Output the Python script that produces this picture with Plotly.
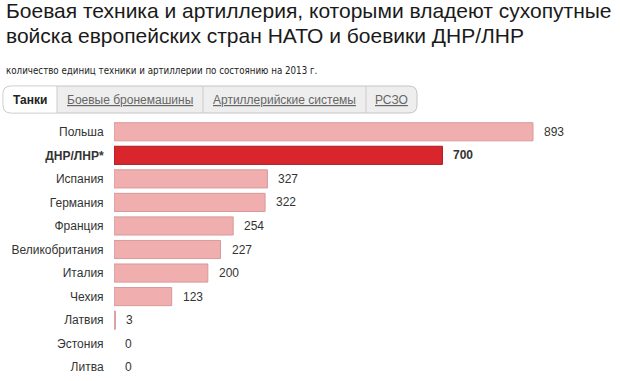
import plotly.graph_objects as go

countries = ["Польша", "ДНР/ЛНР*", "Испания", "Германия", "Франция", "Великобритания",
             "Италия", "Чехия", "Латвия", "Эстония", "Литва"]
tanks = [893, 700, 327, 322, 254, 227, 200, 123, 3, 0, 0]
highlight = "ДНР/ЛНР*"

title_lines = ["Боевая техника и артиллерия, которыми владеют сухопутные",
               "войска европейских стран НАТО и боевики ДНР/ЛНР"]
subtitle = "количество единиц техники и артиллерии по состоянию на 2013 г."
tabs = ["Танки", "Боевые бронемашины", "Артиллерийские системы", "РСЗО"]

FW, FH = 620, 381
L, R, T, B = 114, 6, 120, 2
PW, PH = FW - L - R, FH - T - B


def px(x):
    return (x - L) / PW


def py(y):
    return (FH - B - y) / PH


colors = ["#d8262c" if c == highlight else "#f0aeae" for c in countries]
lines = ["#a81d22" if c == highlight else "#d69a9a" for c in countries]
lwidths = [1 if v > 0 else 0 for v in tanks]
ticktext = [f"<b>{c}</b>" if c == highlight else c for c in countries]

fig = go.Figure()
fig.add_trace(go.Bar(
    x=tanks, y=countries, orientation="h",
    marker=dict(color=colors, line=dict(color=lines, width=lwidths)),
    hoverinfo="x+y",
))

annotations = []
for c, v in zip(countries, tanks):
    annotations.append(dict(
        x=v, y=c, xref="x", yref="y", xanchor="left", yanchor="middle",
        xshift=9, showarrow=False,
        text=f"<b>{v}</b>" if c == highlight else str(v),
        font=dict(size=12, color="#333333", family="Liberation Sans, Arial"),
    ))

# title and subtitle
for i, line in enumerate(title_lines):
    annotations.append(dict(
        x=px(4), y=py(19 + 25 * i), xref="paper", yref="paper",
        xanchor="left", yanchor="bottom", showarrow=False, yshift=-5,
        text=line, font=dict(size=21, color="#1a1a1a", family="Liberation Sans, Arial"),
    ))
annotations.append(dict(
    x=px(4), y=py(71), xref="paper", yref="paper",
    xanchor="left", yanchor="middle", showarrow=False,
    text=subtitle, font=dict(size=9.7, color="#222222",
                             family="DejaVu Sans Condensed, Liberation Sans Narrow, Liberation Sans"),
))

# tabs
tab_x0, tab_x1, tab_y0, tab_y1 = 3, 417, 86, 113
seps = [3, 57, 203, 366, 417]
shapes = []
r = 8


def P(x, y):
    return f"{px(x)},{py(y)}"


path = (f"M {P(tab_x0 + r, tab_y0)} L {P(tab_x1 - r, tab_y0)} "
        f"Q {P(tab_x1, tab_y0)} {P(tab_x1, tab_y0 + r)} "
        f"L {P(tab_x1, tab_y1 - r)} Q {P(tab_x1, tab_y1)} {P(tab_x1 - r, tab_y1)} "
        f"L {P(tab_x0 + r, tab_y1)} Q {P(tab_x0, tab_y1)} {P(tab_x0, tab_y1 - r)} "
        f"L {P(tab_x0, tab_y0 + r)} Q {P(tab_x0, tab_y0)} {P(tab_x0 + r, tab_y0)} Z")
shapes.append(dict(type="path", xref="paper", yref="paper", path=path,
                   fillcolor="#eeeeee", line=dict(color="#c4c4c4", width=1), layer="below"))
sel = (f"M {P(tab_x0 + r, tab_y0 + 0.5)} L {P(seps[1], tab_y0 + 0.5)} L {P(seps[1], tab_y1 - 0.5)} "
       f"L {P(tab_x0 + r, tab_y1 - 0.5)} Q {P(tab_x0 + 0.5, tab_y1 - 0.5)} {P(tab_x0 + 0.5, tab_y1 - r)} "
       f"L {P(tab_x0 + 0.5, tab_y0 + r)} Q {P(tab_x0 + 0.5, tab_y0 + 0.5)} {P(tab_x0 + r, tab_y0 + 0.5)} Z")
shapes.append(dict(type="path", xref="paper", yref="paper", path=sel,
                   fillcolor="#ffffff", line=dict(width=0), layer="below"))
for sx in seps[1:-1]:
    shapes.append(dict(type="line", xref="paper", yref="paper",
                       x0=px(sx), x1=px(sx), y0=py(tab_y0), y1=py(tab_y1),
                       line=dict(color="#cccccc", width=1)))
for i, t in enumerate(tabs):
    cx = (seps[i] + seps[i + 1]) / 2
    if i == 0:
        txt, col = f"<b>{t}</b>", "#222222"
    else:
        txt, col = f"<u>{t}</u>", "#666666"
    annotations.append(dict(
        x=px(cx), y=py(100), xref="paper", yref="paper",
        xanchor="center", yanchor="middle", showarrow=False,
        text=txt, font=dict(size=12, color=col, family="Liberation Sans, Arial"),
    ))

fig.update_layout(
    width=FW, height=FH,
    margin=dict(l=L, r=R, t=T, b=B),
    paper_bgcolor="white", plot_bgcolor="white",
    showlegend=False,
    bargap=0.23,
    xaxis=dict(range=[0, 893 * PW / 419], visible=False, fixedrange=True),
    yaxis=dict(categoryorder="array", categoryarray=countries, autorange="reversed",
               tickmode="array", tickvals=countries, ticktext=ticktext,
               ticks="outside", ticklen=7, tickcolor="rgba(0,0,0,0)",
               showgrid=False, showline=False, zeroline=False, automargin=False,
               tickfont=dict(size=12, color="#333333", family="Liberation Sans, Arial"),
               fixedrange=True),
    annotations=annotations,
    shapes=shapes,
    font=dict(family="Liberation Sans, Arial"),
)

fig.write_html("out.html", config={"displayModeBar": False},
               post_script="document.body.style.margin='0';document.body.style.overflow='hidden';")
